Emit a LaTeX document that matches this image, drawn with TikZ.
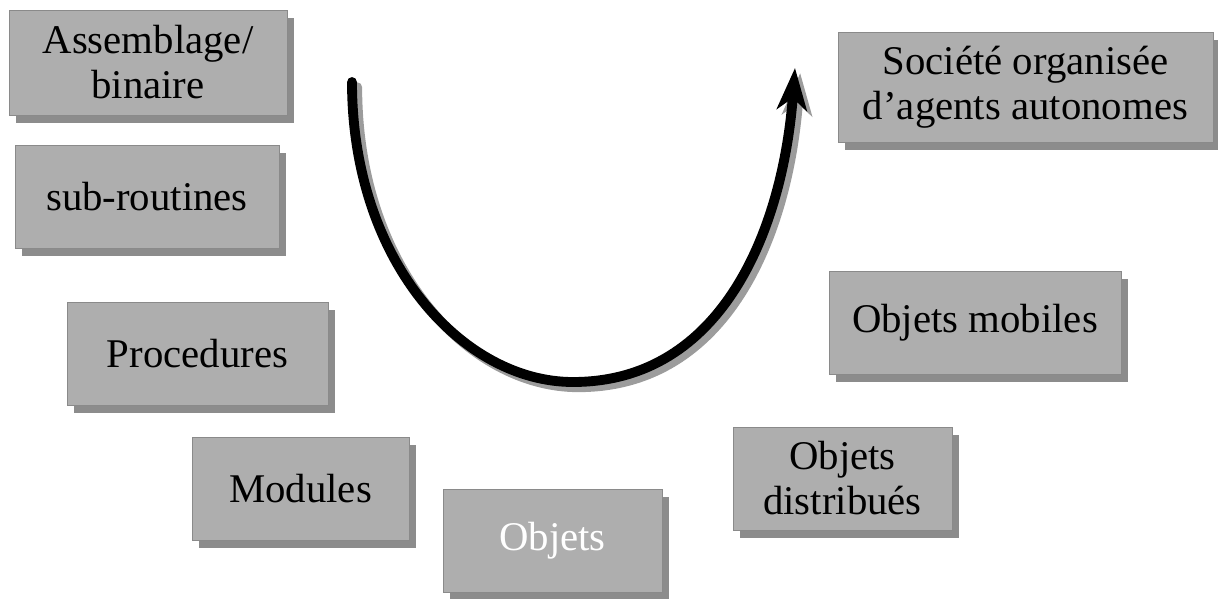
\documentclass[tikz,border=0pt]{standalone}
\usepackage{fontspec}
\setmainfont{Liberation Serif}
\usepackage{tikz}
\usetikzlibrary{arrows.meta,shadows}
\definecolor{boxgray}{HTML}{AEAEAE}
\definecolor{boxedge}{HTML}{8A8A8A}
\definecolor{boxshade}{HTML}{8C8C8C}
\definecolor{arcshade}{HTML}{9C9C9C}

\begin{document}
\begin{tikzpicture}[
    x=0.025cm, y=-0.025cm,
    era/.style={rectangle, draw=boxedge, fill=boxgray, line width=0.6pt,
                 inner sep=0pt, align=center,
                 font=\fontsize{29}{32}\selectfont,
                 drop shadow={shadow xshift=0.17cm, shadow yshift=-0.2cm,
                              fill=boxshade, opacity=1}},
    arc/.style={line width=7pt, line cap=round,
                -{Stealth[length=1.05cm, width=0.75cm, inset=0.3cm]}},
]
    \useasboundingbox (0,0) rectangle (1218,599);

    % stages, from the oldest to the newest
    \node[era, minimum width=6.95cm, minimum height=2.625cm] (asm) at (148,62.5) {Assemblage/\\binaire};
    \node[era, minimum width=6.6cm, minimum height=2.575cm] (subr) at (147,196.5) {sub-routines};
    \node[era, minimum width=6.525cm, minimum height=2.575cm] (proc) at (197.5,353.5) {Procedures};
    \node[era, minimum width=5.425cm, minimum height=2.575cm] (mod) at (300.5,488.5) {Modules};
    \node[era, minimum width=5.475cm, minimum height=2.575cm, text=white] (obj) at (552.5,540.5) {Objets};
    \node[era, minimum width=5.475cm, minimum height=2.575cm] (dist) at (842.5,478.5) {Objets\\distribués};
    \node[era, minimum width=7.3cm, minimum height=2.575cm] (mob) at (975,322.5) {Objets mobiles};
    \node[era, minimum width=9.375cm, minimum height=2.75cm] (soc) at (1025.5,87) {Société organisée\\d’agents autonomes};

    % the big U-turn arrow
    \coordinate (start) at (352,82);
    \coordinate (low) at (573,382);
    \coordinate (tip) at (795,68);

    \draw[arc, arcshade, transform canvas={shift={(0.13cm,-0.13cm)}}]
        (start) .. controls (352,262) and (463,382) .. (low)
                .. controls (723,382) and (783,228) .. (tip);
    \draw[arc, black]
        (start) .. controls (352,262) and (463,382) .. (low)
                .. controls (723,382) and (783,228) .. (tip);
\end{tikzpicture}
\end{document}
